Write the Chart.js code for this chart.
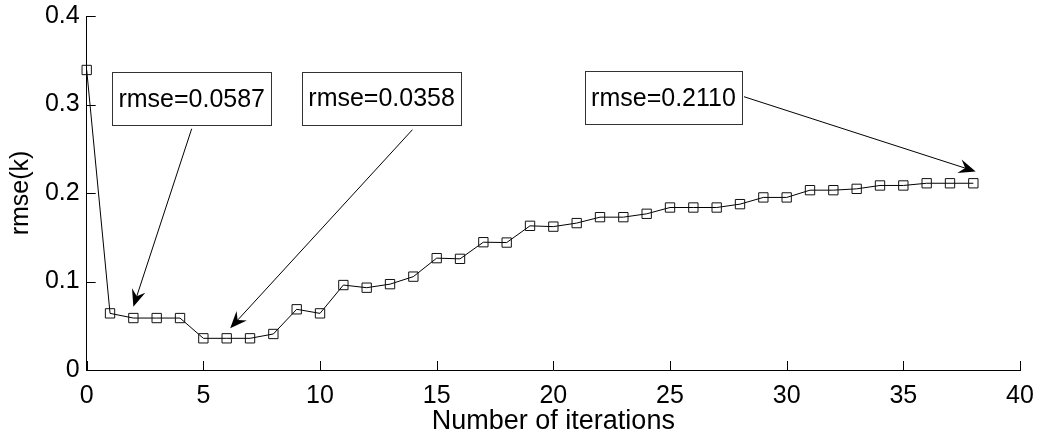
<!DOCTYPE html>
<html>
<head>
<meta charset="utf-8">
<script src="https://cdn.jsdelivr.net/npm/chart.js@4"></script>
<style>
  html, body { margin: 0; padding: 0; background: #fff; }
  #wrap { width: 1044px; height: 438px; }
</style>
</head>
<body>
<div id="wrap"><canvas id="chart"></canvas></div>
<script>
// iterations and rmse values
const iterations = [0,1,2,3,4,5,6,7,8,9,10,11,12,13,14,15,16,17,18,19,
                    20,21,22,23,24,25,26,27,28,29,30,31,32,33,34,35,36,37,38];
const rmseValues = [0.339,0.064,0.0587,0.0587,0.0587,0.0358,0.0358,0.0358,0.0407,0.0686,
                    0.064,0.096,0.093,0.097,0.1055,0.1264,0.1256,0.1444,0.144,0.1629,
                    0.162,0.166,0.1727,0.1727,0.1765,0.1836,0.1836,0.1836,0.1874,0.195,
                    0.195,0.2032,0.2032,0.2047,0.2085,0.2085,0.211,0.211,0.211];

// text annotations (positions in data units)
const noteLabels = ['rmse=0.0587', 'rmse=0.0358', 'rmse=0.2110'];
const noteBoxX   = [4.5, 12.64, 24.72];
const noteBoxY   = [0.3065, 0.307, 0.3077];
const noteTailX  = [4.5, 13.96, 28.17];
const noteTailY  = [0.2726, 0.2715, 0.3088];
const noteTipX   = [2, 6.15, 38.1];
const noteTipY   = [0.0716, 0.0472, 0.2243];

const FONT = 'Liberation Sans, Arial, sans-serif';

// MATLAB style: ticks pointing inward, plus boxed notes with arrows
const matlabPlugin = {
  id: 'matlab',
  afterDatasetsDraw(chart) {
    const ctx = chart.ctx;
    const xs = chart.scales.x, ys = chart.scales.y;
    const area = chart.chartArea;
    ctx.save();
    ctx.strokeStyle = '#000';
    ctx.lineWidth = 1;
    ctx.beginPath();
    xs.ticks.forEach(t => {
      const px = Math.round(xs.getPixelForValue(t.value)) + 0.5;
      ctx.moveTo(px, area.bottom);
      ctx.lineTo(px, area.bottom - 9);
    });
    ys.ticks.forEach(t => {
      const py = Math.round(ys.getPixelForValue(t.value)) + 0.5;
      ctx.moveTo(area.left, py);
      ctx.lineTo(area.left + 9, py);
    });
    ctx.stroke();

    ctx.font = '25px ' + FONT;
    noteLabels.forEach((txt, i) => {
      // arrow line
      const tx = xs.getPixelForValue(noteTailX[i]), ty = ys.getPixelForValue(noteTailY[i]);
      const hx = xs.getPixelForValue(noteTipX[i]), hy = ys.getPixelForValue(noteTipY[i]);
      const ang = Math.atan2(hy - ty, hx - tx);
      const len = 17, half = 7, notch = 11;
      ctx.beginPath();
      ctx.moveTo(tx, ty);
      ctx.lineTo(hx - Math.cos(ang) * notch, hy - Math.sin(ang) * notch);
      ctx.stroke();
      ctx.fillStyle = '#000';
      ctx.beginPath();
      ctx.moveTo(hx, hy);
      const bx = hx - Math.cos(ang) * len, by = hy - Math.sin(ang) * len;
      ctx.lineTo(bx + Math.sin(ang) * half, by - Math.cos(ang) * half);
      ctx.lineTo(hx - Math.cos(ang) * notch, hy - Math.sin(ang) * notch);
      ctx.lineTo(bx - Math.sin(ang) * half, by + Math.cos(ang) * half);
      ctx.closePath();
      ctx.fill();

      // box
      const cx = xs.getPixelForValue(noteBoxX[i]), cy = ys.getPixelForValue(noteBoxY[i]);
      const w = Math.round(ctx.measureText(txt).width + 12), h = 53;
      const x0 = Math.round(cx - w / 2) + 0.5, y0 = Math.round(cy - h / 2) + 0.5;
      ctx.fillStyle = '#fff';
      ctx.fillRect(x0, y0, w, h);
      ctx.strokeStyle = '#333';
      ctx.strokeRect(x0, y0, w, h);
      ctx.fillStyle = '#000';
      ctx.textAlign = 'center';
      ctx.textBaseline = 'middle';
      ctx.fillText(txt, cx, cy + 1);
      ctx.strokeStyle = '#000';
    });
    ctx.restore();
  }
};

new Chart(document.getElementById('chart'), {
  type: 'line',
  data: {
    datasets: [{
      data: iterations.map((x, i) => ({ x: x, y: rmseValues[i] })),
      borderColor: '#000',
      borderWidth: 1,
      pointStyle: 'rect',
      pointRadius: 6.6,
      pointBorderWidth: 1,
      pointBorderColor: '#111',
      pointBackgroundColor: 'rgba(0,0,0,0)',
      tension: 0,
      clip: false
    }]
  },
  options: {
    responsive: true,
    maintainAspectRatio: false,
    animation: false,
    events: [],
    layout: { padding: { left: 0, right: 24, top: 16, bottom: 0 } },
    plugins: { legend: { display: false }, tooltip: { enabled: false } },
    scales: {
      x: {
        type: 'linear', min: 0, max: 40,
        afterFit(s) { s.height = 68; s.paddingLeft = 0; s.paddingRight = 0; },
        grid: { display: false, drawTicks: false },
        border: { display: true, color: '#000', width: 1 },
        ticks: { stepSize: 5, color: '#000', padding: 11, maxRotation: 0,
                 font: { family: FONT, size: 25 } },
        title: { display: true, text: 'Number of iterations', color: '#000',
                 padding: { top: 0, bottom: 0 }, font: { family: FONT, size: 27 } }
      },
      y: {
        min: 0, max: 0.4,
        afterFit(s) { s.width = 86.7; s.paddingTop = 0; s.paddingBottom = 0; },
        grid: { display: false, drawTicks: false },
        border: { display: true, color: '#000', width: 1 },
        ticks: { stepSize: 0.1, color: '#000', padding: 7,
                 font: { family: FONT, size: 25 },
                 callback: v => (v === 0 ? '0' : v.toFixed(1)) },
        title: { display: true, text: 'rmse(k)', color: '#000',
                 padding: { top: 6, bottom: 0 }, font: { family: FONT, size: 25 } }
      }
    }
  },
  plugins: [matlabPlugin]
});
</script>
</body>
</html>
